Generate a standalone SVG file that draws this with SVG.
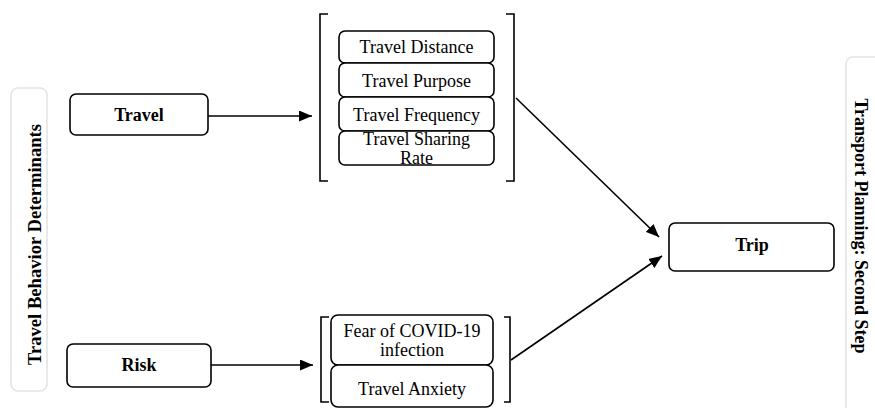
<svg xmlns="http://www.w3.org/2000/svg" width="875" height="408" viewBox="0 0 875 408">
<defs>
<style>
.box{fill:#fff;stroke:#000;stroke-width:1.6}
.side{fill:#fff;stroke:#e4e4e4;stroke-width:1.6}
.t{font-family:"Liberation Serif","Times New Roman",serif;font-size:18px;fill:#000;text-anchor:middle}
.b{font-weight:bold}
.br{fill:none;stroke:#000;stroke-width:1.6}
.ln{fill:none;stroke:#000;stroke-width:1.6}
</style>
<marker id="ah" markerWidth="13" markerHeight="11" refX="13" refY="5.5" orient="auto" markerUnits="userSpaceOnUse">
<path d="M0,0 L13,5.5 L0,11 Z" fill="#000"/>
</marker>
</defs>
<rect width="875" height="408" fill="#fff"/>

<g id="side-left">
<rect class="side" x="11" y="88" width="36" height="303" rx="7"/>
<text class="t b" style="font-size:18.6px" transform="translate(41,244.5) rotate(-90)">Travel Behavior Determinants</text>
</g>

<g id="side-right">
<rect class="side" x="846" y="57" width="40" height="370" rx="7"/>
<text class="t b" transform="translate(855,226) rotate(90)">Transport Planning: Second Step</text>
</g>

<g id="travel">
<rect class="box" x="70" y="94" width="138" height="41" rx="6"/>
<text class="t b" x="139" y="121">Travel</text>
</g>

<g id="risk">
<rect class="box" x="67" y="344" width="144" height="43" rx="6"/>
<text class="t b" x="139" y="371">Risk</text>
</g>

<g id="trip">
<rect class="box" x="669" y="223" width="165" height="48" rx="6"/>
<text class="t b" x="752" y="251">Trip</text>
</g>

<g id="travel-group">
<path class="br" d="M328,14 H320 V181 H328"/>
<path class="br" d="M506,14 H514 V181 H506"/>
<g id="travel-distance">
<rect class="box" x="339" y="31" width="155" height="32" rx="6"/>
<text class="t" x="416.5" y="53">Travel Distance</text>
</g>
<g id="travel-purpose">
<rect class="box" x="339" y="63" width="155" height="34" rx="6"/>
<text class="t" x="416.5" y="87">Travel Purpose</text>
</g>
<g id="travel-frequency">
<rect class="box" x="339" y="97" width="155" height="34" rx="6"/>
<text class="t" x="416.5" y="121">Travel Frequency</text>
</g>
<g id="travel-sharing">
<rect class="box" x="339" y="131" width="155" height="34" rx="6"/>
<text class="t" x="416.5" y="145">Travel Sharing</text>
<text class="t" x="416.5" y="164">Rate</text>
</g>
</g>

<g id="risk-group">
<path class="br" d="M329,317 H321 V402 H329"/>
<path class="br" d="M504,317 H510 V402 H504"/>
<g id="fear">
<rect class="box" x="331" y="315" width="162" height="50" rx="7"/>
<text class="t" x="412" y="337">Fear of COVID-19</text>
<text class="t" x="412" y="356">infection</text>
</g>
<g id="anxiety">
<rect class="box" x="331" y="365" width="162" height="42" rx="7"/>
<text class="t" x="412" y="395">Travel Anxiety</text>
</g>
</g>

<g id="connectors">
<line class="ln" x1="208" y1="116" x2="312" y2="116" marker-end="url(#ah)"/>
<line class="ln" x1="211" y1="365" x2="313" y2="365" marker-end="url(#ah)"/>
<line class="ln" x1="516" y1="98" x2="659" y2="237" marker-end="url(#ah)"/>
<line class="ln" x1="511" y1="360" x2="662" y2="256" marker-end="url(#ah)"/>
</g>
</svg>
